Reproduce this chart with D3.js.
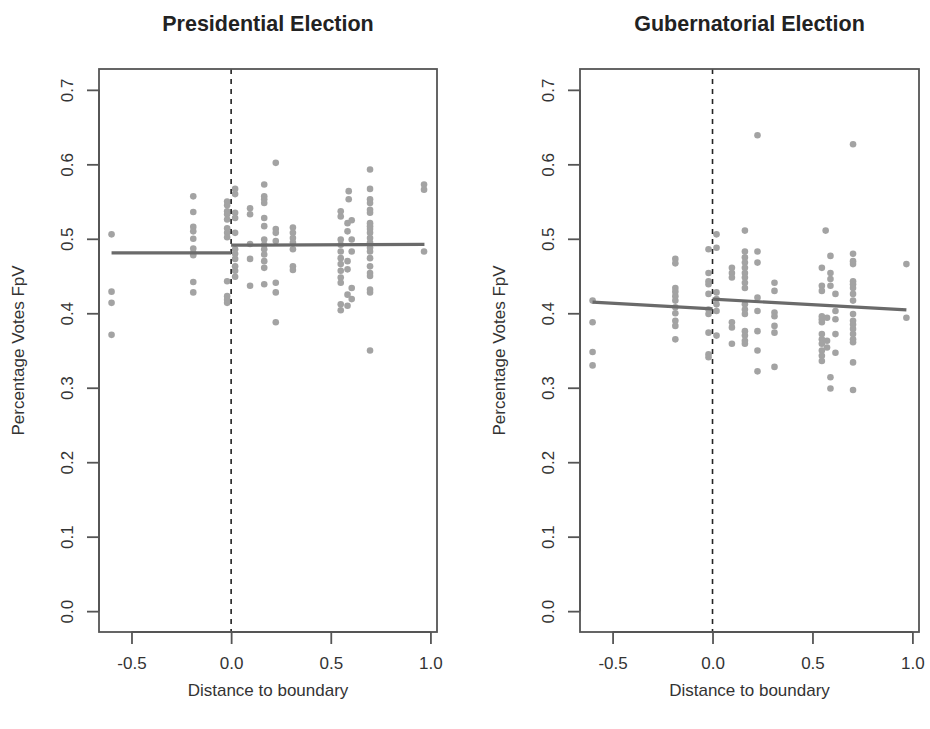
<!DOCTYPE html>
<html>
<head>
<meta charset="utf-8">
<script src="https://cdn.jsdelivr.net/npm/d3@7"></script>
<style>
  body { margin: 0; background: #fff; }
  text { font-family: "Liberation Sans", Arial, sans-serif; }
</style>
</head>
<body>
<svg id="chart" width="930" height="729"></svg>
<script>
// distance columns and the vote shares stacked on each of them
var presDist = [-0.6, -0.19, -0.02, 0.02, 0.095, 0.166, 0.224, 0.31, 0.55, 0.584, 0.59, 0.605, 0.697, 0.968];
var presVotes = [
    [0.506, 0.429, 0.414, 0.371],
    [0.557, 0.536, 0.516, 0.510, 0.500, 0.487, 0.481, 0.478, 0.442, 0.428],
    [0.550, 0.545, 0.537, 0.533, 0.526, 0.514, 0.508, 0.502, 0.443, 0.423, 0.418, 0.414],
    [0.567, 0.560, 0.535, 0.528, 0.508, 0.486, 0.480, 0.473, 0.463, 0.457, 0.449],
    [0.541, 0.533, 0.493, 0.473, 0.437],
    [0.573, 0.557, 0.553, 0.548, 0.528, 0.517, 0.499, 0.492, 0.486, 0.479, 0.470, 0.461, 0.439],
    [0.602, 0.513, 0.508, 0.497, 0.441, 0.428, 0.388],
    [0.515, 0.508, 0.501, 0.495, 0.486, 0.463, 0.458],
    [0.537, 0.530, 0.499, 0.492, 0.483, 0.474, 0.466, 0.457, 0.448, 0.441, 0.412, 0.404],
    [0.521, 0.510, 0.470, 0.459, 0.425, 0.410],
    [0.564, 0.553],
    [0.525, 0.499, 0.483, 0.434, 0.419],
    [0.593, 0.567, 0.553, 0.548, 0.539, 0.535, 0.521, 0.517, 0.513, 0.508, 0.501, 0.495, 0.488, 0.483,
     0.474, 0.463, 0.454, 0.450, 0.432, 0.428, 0.350],
    [0.573, 0.566, 0.483]
];

var gubDist = [-0.6, -0.186, -0.02, 0.02, 0.097, 0.162, 0.225, 0.31, 0.547, 0.566, 0.573, 0.59, 0.615, 0.703, 0.97];
var gubVotes = [
    [0.417, 0.388, 0.348, 0.330],
    [0.473, 0.467, 0.434, 0.429, 0.423, 0.417, 0.408, 0.400, 0.390, 0.383, 0.365],
    [0.486, 0.454, 0.443, 0.439, 0.426, 0.405, 0.399, 0.374, 0.345, 0.341],
    [0.506, 0.488, 0.428, 0.419, 0.412, 0.403, 0.370],
    [0.461, 0.454, 0.448, 0.388, 0.381, 0.359],
    [0.511, 0.483, 0.475, 0.468, 0.461, 0.454, 0.448, 0.441, 0.434, 0.412, 0.405, 0.399, 0.376, 0.370, 0.363, 0.359],
    [0.639, 0.483, 0.468, 0.421, 0.403, 0.376, 0.350, 0.322],
    [0.441, 0.430, 0.401, 0.396, 0.383, 0.374, 0.328],
    [0.461, 0.437, 0.430, 0.396, 0.392, 0.388, 0.372, 0.365, 0.359, 0.350, 0.343, 0.336],
    [0.511],
    [0.394, 0.363, 0.354],
    [0.477, 0.454, 0.446, 0.437, 0.314, 0.299],
    [0.426, 0.403, 0.392, 0.372, 0.347],
    [0.627, 0.480, 0.470, 0.466, 0.443, 0.439, 0.434, 0.426, 0.417, 0.399, 0.390, 0.385, 0.379, 0.372,
     0.365, 0.361, 0.334, 0.297],
    [0.466, 0.394]
];

// fitted lines either side of the boundary: [x0, y0, x1, y1]
var presFit = [[-0.6, 0.481, 0, 0.481], [0, 0.4915, 0.97, 0.4925]];
var gubFit = [[-0.6, 0.415, 0, 0.406], [0, 0.419, 0.97, 0.4045]];

var xTicks = [-0.5, 0.0, 0.5, 1.0];
var yTicks = [0.0, 0.1, 0.2, 0.3, 0.4, 0.5, 0.6, 0.7];

var svg = d3.select("#chart");

var y = d3.scaleLinear().domain([-0.028, 0.728]).range([632, 69]);

// R style labels, plain hyphen for negatives
function fmt(d) {
    return d.toFixed(1);
}

function panel(title, left, right, dist, votes, fit) {
    var x = d3.scaleLinear().domain([-0.663, 1.033]).range([left, right]);
    var g = svg.append("g");

    // points
    var pts = [];
    dist.forEach(function(d, i) {
        votes[i].forEach(function(v) { pts.push([d, v]); });
    });
    g.selectAll("circle")
        .data(pts)
        .enter()
        .append("circle")
        .attr("cx", function(d) { return x(d[0]); })
        .attr("cy", function(d) { return y(d[1]); })
        .attr("r", 3.3)
        .attr("fill", "#a3a3a3");

    // boundary
    g.append("line")
        .attr("x1", x(0)).attr("x2", x(0))
        .attr("y1", y.range()[1]).attr("y2", y.range()[0])
        .attr("stroke", "#222")
        .attr("stroke-width", 1.6)
        .attr("stroke-dasharray", "5,5");

    // fits
    g.selectAll("line.fit")
        .data(fit)
        .enter()
        .append("line")
        .attr("class", "fit")
        .attr("x1", function(d) { return x(d[0]); })
        .attr("y1", function(d) { return y(d[1]); })
        .attr("x2", function(d) { return x(d[2]); })
        .attr("y2", function(d) { return y(d[3]); })
        .attr("stroke", "#6a6a6a")
        .attr("stroke-width", 3.2);

    // box
    g.append("rect")
        .attr("x", left).attr("y", 69)
        .attr("width", right - left).attr("height", 632 - 69)
        .attr("fill", "none")
        .attr("stroke", "#555")
        .attr("stroke-width", 1.8);

    // axes
    var xAxis = d3.axisBottom(x).tickValues(xTicks).tickFormat(fmt)
        .tickSizeInner(12).tickSizeOuter(0).tickPadding(13);
    var gx = g.append("g").attr("transform", "translate(0,632)").call(xAxis);
    gx.select(".domain").attr("d", "M" + x(-0.5) + ",0H" + x(1.0));

    var yAxis = d3.axisLeft(y).tickValues(yTicks).tickFormat(fmt)
        .tickSizeInner(12).tickSizeOuter(0).tickPadding(0);
    var gy = g.append("g").attr("transform", "translate(" + left + ",0)").call(yAxis);
    gy.select(".domain").attr("d", "M0," + y(0) + "V" + y(0.7));
    gy.selectAll(".tick text")
        .attr("x", 0).attr("dy", null)
        .attr("transform", "translate(-26,0) rotate(-90)")
        .attr("text-anchor", "middle");

    [gx, gy].forEach(function(a) {
        a.selectAll(".domain, .tick line").attr("stroke", "#555").attr("stroke-width", 1.8);
        a.selectAll(".tick text").attr("fill", "#333").style("font-size", "17px")
            .style("font-family", "'Liberation Sans', Arial, sans-serif");
    });
    gx.selectAll(".tick text").attr("dy", "0.71em");

    // titles and labels
    var cx = (left + right) / 2;
    g.append("text")
        .attr("x", cx).attr("y", 31)
        .attr("text-anchor", "middle")
        .style("font-size", "21.5px").style("font-weight", "bold")
        .attr("fill", "#222")
        .text(title);
    g.append("text")
        .attr("x", cx).attr("y", 696)
        .attr("text-anchor", "middle")
        .style("font-size", "17px")
        .attr("fill", "#333")
        .text("Distance to boundary");
    g.append("text")
        .attr("transform", "translate(" + (left - 75) + "," + (y(0.35)) + ") rotate(-90)")
        .attr("text-anchor", "middle")
        .style("font-size", "17px")
        .attr("fill", "#333")
        .text("Percentage Votes FpV");
}

panel("Presidential Election", 99, 437, presDist, presVotes, presFit);
panel("Gubernatorial Election", 580, 919, gubDist, gubVotes, gubFit);
</script>
</body>
</html>
